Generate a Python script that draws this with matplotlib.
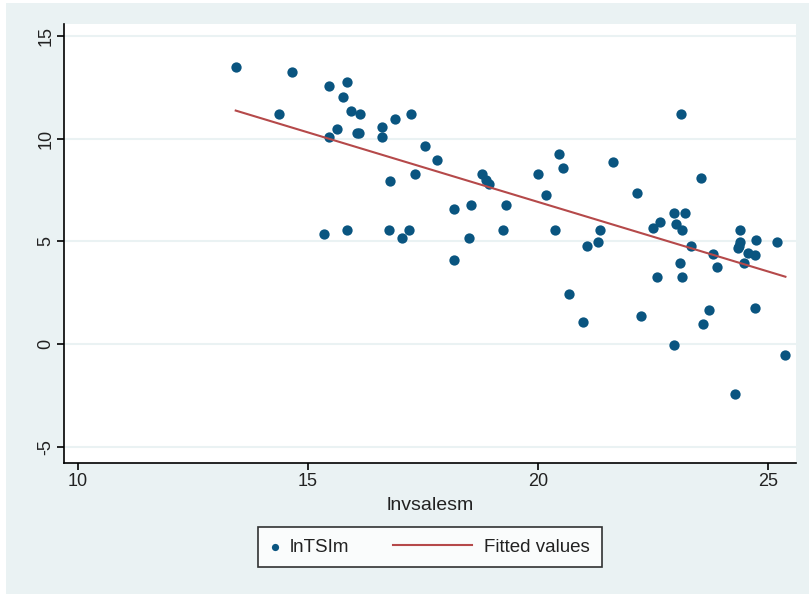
import numpy as np
import matplotlib.pyplot as plt
from matplotlib.patches import Rectangle
from matplotlib.legend_handler import HandlerLine2D

plt.rcParams['font.family'] = ['Liberation Sans', 'DejaVu Sans']
plt.rcParams['axes.unicode_minus'] = False

# lnvsalesm (x) and lnTSIm (y)
lnvsalesm = [13.43, 14.65, 14.37, 15.45, 15.85, 15.76, 15.94, 16.12, 15.62, 15.45,
             16.06, 16.11, 16.61, 16.61, 16.88, 17.23, 17.55, 17.81, 17.33, 16.78,
             18.79, 18.86, 18.93, 18.17, 18.53, 15.35, 15.85, 16.75, 17.19, 17.05,
             18.17, 18.49, 19.24, 19.29, 20.00, 20.45, 20.54, 20.18, 20.36, 21.62,
             21.35, 21.07, 21.30, 20.67, 20.98, 22.14, 23.53, 23.11, 22.50, 22.64,
             22.95, 23.18, 23.00, 23.13, 23.31, 23.09, 22.59, 23.13, 22.24, 22.95,
             23.80, 23.89, 23.71, 23.57, 24.38, 24.38, 24.36, 24.33, 24.73, 25.19,
             24.56, 24.70, 24.47, 24.70, 25.37, 24.28]
lnTSIm = [13.50, 13.28, 11.19, 12.59, 12.78, 12.06, 11.38, 11.19, 10.47, 10.08,
          10.28, 10.28, 10.57, 10.08, 10.98, 11.19, 9.67, 8.98, 8.28, 7.97,
          8.28, 8.00, 7.79, 6.57, 6.78, 5.37, 5.56, 5.56, 5.56, 5.16,
          4.10, 5.16, 5.56, 6.77, 8.29, 9.27, 8.57, 7.28, 5.56, 8.88,
          5.56, 4.76, 4.96, 2.45, 1.06, 7.38, 8.07, 11.20, 5.66, 5.97,
          6.37, 6.37, 5.87, 5.56, 4.76, 3.97, 3.27, 3.27, 1.35, -0.05,
          4.37, 3.77, 1.66, 0.96, 5.56, 4.96, 4.76, 4.66, 5.07, 4.96,
          4.46, 4.34, 3.97, 1.74, -0.55, -2.44]

# fitted line, read at the ends of the x range
fit_x = [13.43, 25.37]
fit_y = [11.38, 3.28]


class LongLine(HandlerLine2D):
    # line handle that reaches left into the column gap, Stata style
    def get_xdata(self, legend, xdescent, ydescent, width, height, fontsize):
        x0 = -xdescent - 3.77 * fontsize
        x1 = -xdescent + width - 0.1 * fontsize
        return np.array([x0, x1]), np.array([(x0 + x1) / 2])


fig = plt.figure(figsize=(8.09, 5.94), dpi=100)
fig.patch.set_facecolor('white')
fig.patches.append(Rectangle((6 / 809, 0), 1, 1 - 3 / 594, transform=fig.transFigure,
                             facecolor='#eaf2f3', edgecolor='none', zorder=-10))

ax = fig.add_axes([64 / 809, 131 / 594, 732 / 809, 439 / 594])
ax.set_facecolor('white')
ax.scatter(lnvsalesm, lnTSIm, s=55, color='#0a5580', linewidths=0, label='lnTSIm', zorder=3)
line, = ax.plot(fit_x, fit_y, color='#b5494a', lw=1.5, label='Fitted values', zorder=4)

ax.set_xlim(9.7, 25.6)
ax.set_ylim(-5.8, 15.6)
ax.set_xticks([10, 15, 20, 25])
ax.set_yticks([-5, 0, 5, 10, 15])
ax.grid(axis='y', color='#eaf2f3', lw=1.5, zorder=0)
ax.set_axisbelow(True)
for side in ['top', 'right']:
    ax.spines[side].set_visible(False)
ax.spines['left'].set_linewidth(1.2)
ax.spines['bottom'].set_linewidth(1.2)
ax.tick_params(direction='out', length=5, width=1.2, labelsize=13, pad=2,
               colors='black', labelcolor='#222222')
plt.setp(ax.get_yticklabels(), rotation=90, va='center')
ax.set_xlabel('lnvsalesm', fontsize=14, labelpad=5, color='#222222')

leg = ax.legend(loc='upper center', bbox_to_anchor=(0.5, -0.146), ncol=2,
                frameon=True, fancybox=False, fontsize=13.5, columnspacing=6.1,
                handlelength=0.5, handletextpad=0.58, borderpad=0.62, borderaxespad=0,
                markerscale=0.7, handler_map={line: LongLine()})
leg.get_frame().set_edgecolor('black')
leg.get_frame().set_linewidth(1.2)
for t in leg.get_texts():
    t.set_color('#222222')

plt.savefig('out.png', dpi=100)
